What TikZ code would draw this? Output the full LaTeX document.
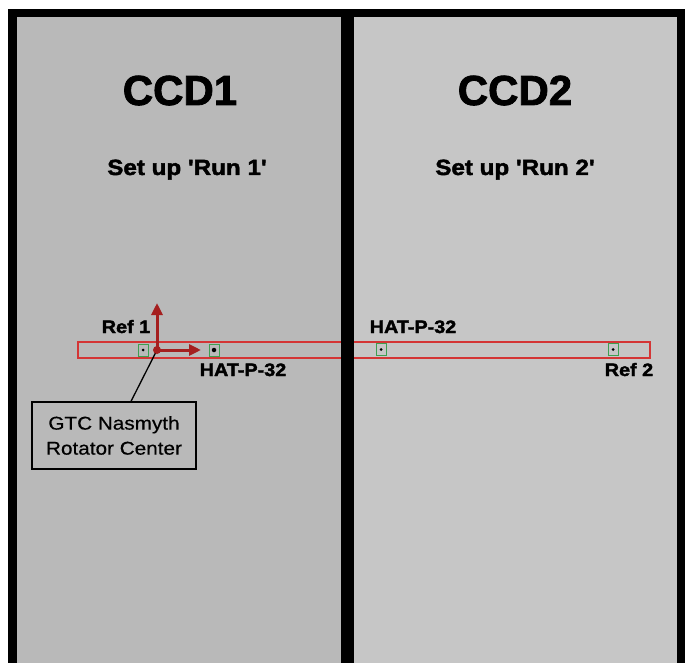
\documentclass[tikz,border=0pt]{standalone}
\usepackage{fontspec}
\setmainfont{Liberation Sans}
\newfontfamily\titlefont[FakeBold=2]{Liberation Sans Bold}
\newfontfamily\wideb[FakeStretch=1.1,FakeBold=2]{Liberation Sans Bold}
\newfontfamily\wider[FakeStretch=1.12,FakeBold=0.5]{Liberation Sans}
\usetikzlibrary{arrows.meta}
\definecolor{leftgray}{HTML}{B9B9B9}
\definecolor{rightgray}{HTML}{C6C6C6}
\definecolor{slitred}{HTML}{D43535}
\definecolor{arrred}{HTML}{A51F1F}
\definecolor{boxgreen}{HTML}{3E9E50}
\tikzset{
  title/.style={anchor=base, inner sep=0pt, font=\titlefont\fontsize{42}{42}\selectfont},
  setup/.style={anchor=base, inner sep=0pt, font=\wideb\fontsize{22}{22}\selectfont},
  lab/.style={anchor=base, inner sep=0pt, font=\wideb\fontsize{18}{18}\selectfont},
  starbox/.style={draw=boxgreen, line width=1pt, minimum width=10pt, minimum height=12pt, inner sep=0pt},
  stardot/.style={circle, fill=black, minimum size=3pt, inner sep=0pt},
  axis/.style={draw=arrred, line width=3pt, -{Triangle[length=12pt,width=11pt]}},
  callout/.style={draw=black, line width=1.3pt, fill=leftgray, minimum width=164pt, minimum height=67pt, inner sep=0pt, align=center, font=\wider\fontsize{18.5}{25}\selectfont}
}
\begin{document}
\begin{tikzpicture}[x=1pt,y=-1pt]
\useasboundingbox (0,0) rectangle (685,663);
\fill[white] (0,0) rectangle (685,663);
\fill[black] (8,9) rectangle (685,663);
\fill[leftgray] (17,17) rectangle (341,663);
\fill[rightgray] (354,17) rectangle (677,663);
% slit
\draw[slitred, line width=2pt] (78,342) rectangle (650,358);
\fill[black] (341,17) rectangle (354,663);
% titles
\node[title] (ccd1) at (180,105) {CCD1};
\node[title] (ccd2) at (515,105) {CCD2};
\node[setup] (run1) at (187,175) {Set up 'Run 1'};
\node[setup] (run2) at (515,175) {Set up 'Run 2'};
% stars
\node[starbox] (ref1) at (143,350) {};
\node[stardot] at (ref1) {};
\node[starbox] (hat1) at (214,350) {};
\node[stardot, minimum size=4.5pt] at (hat1) {};
\node[starbox] (hat2) at (381,349.5) {};
\node[stardot] at (hat2) {};
\node[starbox] (ref2) at (613,349.5) {};
\node[stardot] at (ref2) {};
% labels
\node[lab] (lref1) at (126,333) {Ref 1};
\node[lab] (lhat1) at (243,376) {HAT-P-32};
\node[lab] (lhat2) at (413,333) {HAT-P-32};
\node[lab] (lref2) at (629,376) {Ref 2};
% callout
\node[callout] (gtc) at (114,435.5) {GTC Nasmyth\\Rotator Center};
\coordinate (org) at (157,350);
\coordinate (upend) at (157,303);
\coordinate (rightend) at (201,350);
\draw[black, line width=1.3pt] (gtc.north -| 131,0) -- (org);
\draw[axis] (org) -- (upend);
\draw[axis] (org) -- (rightend);
\fill[arrred] (org) circle (4pt);
\end{tikzpicture}
\end{document}
